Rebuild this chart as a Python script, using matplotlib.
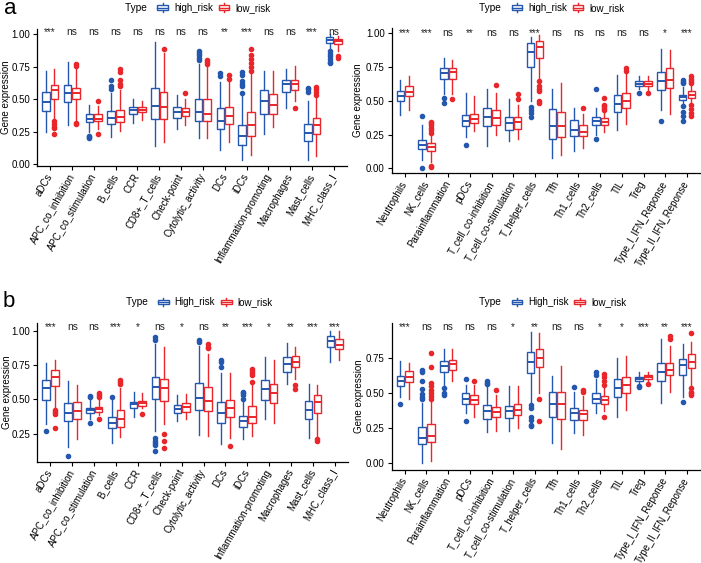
import numpy as np
import matplotlib
matplotlib.use("Agg")
import matplotlib.pyplot as plt
import matplotlib.transforms as mtrans
from matplotlib.patches import Rectangle, Patch
from matplotlib.lines import Line2D
from matplotlib.legend_handler import HandlerBase

plt.rcParams["font.family"] = ["Liberation Sans", "DejaVu Sans"]

# ---------------------------------------------------------------
# Data: box stats per category as (whisker_low, q1, median, q3, whisker_high)
# plus the outlier points.
# ---------------------------------------------------------------
CATS_LEFT = ["aDCs", "APC_co_inhibition", "APC_co_stimulation", "B_cells", "CCR",
             "CD8+_T_cells", "Check-point", "Cytolytic_activity", "DCs", "iDCs",
             "Inflammation-promoting", "Macrophages", "Mast_cells", "MHC_class_I"]
CATS_RIGHT = ["Neutrophils", "NK_cells", "Parainflammation", "pDCs", "T_cell_co-inhibition",
              "T_cell_co-stimulation", "T_helper_cells", "Tfh", "Th1_cells", "Th2_cells",
              "TIL", "Treg", "Type_I_IFN_Reponse", "Type_II_IFN_Reponse"]

# panel a, left
A1_HIGH = [(0.25, 0.41, 0.48, 0.56, 0.72), (0.30, 0.48, 0.55, 0.61, 0.79),
           (0.25, 0.325, 0.35, 0.385, 0.46), (0.21, 0.31, 0.355, 0.41, 0.55),
           (0.32, 0.39, 0.415, 0.44, 0.50), (0.14, 0.35, 0.445, 0.59, 0.94),
           (0.27, 0.36, 0.40, 0.44, 0.53), (0.20, 0.33, 0.40, 0.505, 0.77),
           (0.11, 0.27, 0.335, 0.43, 0.63), (0.03, 0.15, 0.215, 0.30, 0.53),
           (0.23, 0.39, 0.49, 0.57, 0.72), (0.43, 0.555, 0.62, 0.65, 0.73),
           (0.03, 0.18, 0.24, 0.31, 0.49), (0.88, 0.93, 0.96, 0.98, 1.00)]
A1_HIGH_OUT = [[], [], [0.22, 0.21, 0.20], [0.645, 0.60, 0.58], [], [], [],
               [0.80, 0.82, 0.84, 0.855, 0.87], [0.68, 0.70],
               [0.55, 0.60, 0.62, 0.64, 0.69, 0.71], [], [], [0.56, 0.58, 0.59],
               [0.87, 0.85, 0.83, 0.81, 0.79, 0.78]]
A1_LOW = [(0.36, 0.50, 0.57, 0.61, 0.735), (0.33, 0.50, 0.545, 0.59, 0.74),
          (0.27, 0.33, 0.35, 0.385, 0.45), (0.26, 0.325, 0.365, 0.42, 0.57),
          (0.34, 0.40, 0.42, 0.44, 0.49), (0.17, 0.35, 0.44, 0.555, 0.86),
          (0.30, 0.37, 0.40, 0.43, 0.50), (0.20, 0.33, 0.39, 0.50, 0.75),
          (0.17, 0.31, 0.37, 0.44, 0.64), (0.07, 0.22, 0.30, 0.40, 0.70),
          (0.29, 0.39, 0.46, 0.54, 0.72), (0.49, 0.575, 0.62, 0.65, 0.76),
          (0.065, 0.235, 0.30, 0.36, 0.52), (0.87, 0.925, 0.945, 0.965, 0.99)]
A1_LOW_OUT = [[0.33, 0.31, 0.29, 0.28, 0.23], [0.31, 0.32, 0.76, 0.77], [0.49, 0.235],
              [0.60, 0.62, 0.65, 0.71, 0.73], [], [0.89], [0.55], [0.77, 0.79, 0.80],
              [0.66, 0.685], [0.72, 0.75, 0.78, 0.81, 0.84, 0.885], [], [0.43],
              [0.53, 0.56, 0.58, 0.595], [0.83, 0.82]]
A1_SIG = ["***", "ns", "ns", "ns", "ns", "ns", "ns", "ns", "**", "***", "ns", "ns", "***", "ns"]

# panel a, right
A2_HIGH = [(0.395, 0.50, 0.535, 0.575, 0.655), (0.06, 0.14, 0.175, 0.21, 0.32),
           (0.55, 0.66, 0.705, 0.745, 0.82), (0.23, 0.31, 0.35, 0.395, 0.56),
           (0.165, 0.315, 0.38, 0.45, 0.59), (0.20, 0.28, 0.335, 0.38, 0.51),
           (0.50, 0.75, 0.86, 0.925, 0.975), (0.08, 0.22, 0.315, 0.44, 0.59),
           (0.13, 0.24, 0.28, 0.355, 0.445), (0.245, 0.32, 0.35, 0.38, 0.445),
           (0.28, 0.415, 0.475, 0.545, 0.69), (0.585, 0.61, 0.625, 0.645, 0.68),
           (0.43, 0.58, 0.645, 0.71, 0.88), (0.47, 0.505, 0.525, 0.54, 0.60)]
A2_HIGH_OUT = [[], [0.39, 0.00], [0.52, 0.485], [0.17], [], [],
               [0.455, 0.43, 0.41, 0.38], [], [], [0.585, 0.22], [], [0.56], [0.35],
               [0.63, 0.64, 0.655, 0.46, 0.42, 0.39, 0.35]]
A2_LOW = [(0.435, 0.535, 0.565, 0.61, 0.685), (0.05, 0.13, 0.155, 0.185, 0.25),
          (0.55, 0.66, 0.71, 0.745, 0.80), (0.275, 0.335, 0.365, 0.405, 0.535),
          (0.245, 0.32, 0.37, 0.43, 0.56), (0.22, 0.29, 0.34, 0.38, 0.47),
          (0.66, 0.82, 0.895, 0.945, 0.985), (0.10, 0.23, 0.315, 0.42, 0.635),
          (0.15, 0.24, 0.27, 0.32, 0.40), (0.27, 0.32, 0.34, 0.37, 0.42),
          (0.33, 0.445, 0.495, 0.555, 0.70), (0.58, 0.61, 0.625, 0.645, 0.68),
          (0.40, 0.595, 0.655, 0.74, 0.875), (0.48, 0.52, 0.545, 0.575, 0.61)]
A2_LOW_OUT = [[], [0.26, 0.28, 0.30, 0.32, 0.335, 0.345, 0.02, 0.01], [0.51], [], [0.62],
              [0.51, 0.55], [0.645, 0.61, 0.59, 0.57, 0.50, 0.48], [], [0.45],
              [0.43, 0.445, 0.46, 0.47, 0.52], [0.72, 0.74], [0.56], [],
              [0.63, 0.645, 0.66, 0.68, 0.47, 0.44, 0.41, 0.39]]
A2_SIG = ["***", "***", "ns", "**", "ns", "ns", "***", "ns", "ns", "ns", "ns", "ns", "*", "***"]

# panel b, left
B1_HIGH = [(0.32, 0.495, 0.585, 0.64, 0.765), (0.155, 0.345, 0.40, 0.475, 0.635),
           (0.36, 0.40, 0.425, 0.44, 0.50), (0.18, 0.29, 0.33, 0.375, 0.50),
           (0.37, 0.435, 0.465, 0.48, 0.555), (0.27, 0.50, 0.59, 0.665, 0.90),
           (0.34, 0.40, 0.43, 0.46, 0.535), (0.24, 0.42, 0.51, 0.62, 0.89),
           (0.175, 0.33, 0.40, 0.48, 0.69), (0.21, 0.30, 0.34, 0.38, 0.48),
           (0.355, 0.495, 0.575, 0.64, 0.81), (0.61, 0.70, 0.76, 0.805, 0.91),
           (0.215, 0.355, 0.425, 0.49, 0.61), (0.775, 0.88, 0.925, 0.965, 1.00)]
B1_HIGH_OUT = [[0.27], [0.087], [0.515, 0.525, 0.33], [0.52], [],
               [0.935, 0.955, 0.215, 0.20, 0.18, 0.165, 0.125], [], [0.92, 0.93],
               [0.735, 0.775, 0.79], [0.50, 0.53, 0.545, 0.555], [], [], [], []]
B1_LOW = [(0.445, 0.60, 0.665, 0.715, 0.79), (0.21, 0.355, 0.415, 0.48, 0.605),
          (0.385, 0.41, 0.43, 0.445, 0.50), (0.225, 0.30, 0.355, 0.425, 0.58),
          (0.435, 0.455, 0.47, 0.49, 0.55), (0.32, 0.49, 0.58, 0.65, 0.885),
          (0.355, 0.41, 0.445, 0.47, 0.54), (0.23, 0.415, 0.485, 0.59, 0.83),
          (0.215, 0.37, 0.435, 0.495, 0.69), (0.23, 0.33, 0.375, 0.45, 0.62),
          (0.33, 0.475, 0.55, 0.615, 0.785), (0.65, 0.735, 0.77, 0.815, 0.885),
          (0.23, 0.40, 0.48, 0.53, 0.605), (0.785, 0.865, 0.895, 0.94, 0.995)]
B1_LOW_OUT = [[0.42, 0.41, 0.39, 0.295], [], [0.52, 0.535, 0.545, 0.355], [0.61, 0.625, 0.64],
              [0.395], [0.245, 0.20, 0.145], [], [0.875, 0.885, 0.90], [0.16],
              [0.63, 0.68, 0.695, 0.705, 0.72], [], [0.605, 0.575], [0.21, 0.195], []]
B1_SIG = ["***", "ns", "ns", "***", "*", "ns", "*", "ns", "**", "***", "*", "**", "***", "***"]

# panel b, right
B2_HIGH = [(0.475, 0.55, 0.59, 0.625, 0.735), (0.00, 0.135, 0.18, 0.26, 0.43),
           (0.56, 0.655, 0.695, 0.735, 0.815), (0.355, 0.425, 0.455, 0.50, 0.56),
           (0.22, 0.315, 0.37, 0.415, 0.55), (0.23, 0.32, 0.37, 0.41, 0.55),
           (0.44, 0.645, 0.725, 0.80, 0.94), (0.14, 0.325, 0.42, 0.51, 0.625),
           (0.21, 0.31, 0.355, 0.39, 0.51), (0.355, 0.43, 0.46, 0.50, 0.60),
           (0.33, 0.475, 0.54, 0.60, 0.755), (0.57, 0.59, 0.605, 0.62, 0.655),
           (0.43, 0.59, 0.655, 0.715, 0.89), (0.47, 0.63, 0.70, 0.745, 0.855)]
B2_HIGH_OUT = [[0.42], [0.455, 0.475, 0.495, 0.53, 0.59, 0.65, 0.665], [0.54, 0.50, 0.49],
               [0.605, 0.30], [0.565, 0.575, 0.585], [], [0.415, 0.39, 0.33, 0.31, 0.27, 0.265],
               [], [0.545], [0.63, 0.65], [], [0.55, 0.545], [], [0.44]]
B2_LOW = [(0.46, 0.58, 0.62, 0.66, 0.72), (0.01, 0.145, 0.19, 0.275, 0.45),
          (0.585, 0.665, 0.71, 0.74, 0.815), (0.33, 0.42, 0.45, 0.485, 0.56),
          (0.23, 0.33, 0.365, 0.40, 0.49), (0.25, 0.34, 0.38, 0.425, 0.55),
          (0.50, 0.685, 0.755, 0.815, 0.935), (0.10, 0.315, 0.425, 0.51, 0.695),
          (0.20, 0.305, 0.35, 0.38, 0.48), (0.37, 0.425, 0.45, 0.48, 0.54),
          (0.38, 0.50, 0.56, 0.615, 0.77), (0.58, 0.60, 0.615, 0.63, 0.655),
          (0.51, 0.63, 0.67, 0.72, 0.84), (0.56, 0.68, 0.725, 0.78, 0.87)]
B2_LOW_OUT = [[], [0.46, 0.48, 0.50, 0.52, 0.55, 0.57, 0.69, 0.79], [], [0.59], [0.525], [],
              [0.455, 0.30], [], [0.51, 0.525], [0.56, 0.59, 0.615, 0.635, 0.33], [], [0.565],
              [0.89, 0.915], [0.935, 0.535, 0.51, 0.50, 0.49]]
B2_SIG = ["***", "ns", "ns", "ns", "ns", "*", "**", "ns", "ns", "*", "*", "***", "**", "***"]

BLUE = "#2457AE"
RED = "#E9262B"


class BoxKey(HandlerBase):
    # legend key drawn like a tiny boxplot
    def create_artists(self, legend, orig, xdescent, ydescent, width, height, fontsize, trans):
        c = orig.get_edgecolor()
        x0, y0 = -xdescent, -ydescent
        xm = x0 + width / 2
        box = Rectangle((x0, y0 + 0.2 * height), width, 0.6 * height,
                        facecolor="white", edgecolor=c, lw=1.0, transform=trans)
        med = Line2D([x0, x0 + width], [y0 + 0.5 * height] * 2, color=c, lw=1.0, transform=trans)
        wt = Line2D([xm, xm], [y0 + 0.8 * height, y0 + 1.05 * height], color=c, lw=1.0, transform=trans)
        wb = Line2D([xm, xm], [y0 - 0.05 * height, y0 + 0.2 * height], color=c, lw=1.0, transform=trans)
        return [wt, wb, box, med]


fig = plt.figure(figsize=(7.01, 5.63), dpi=100)


def draw_panel(rect, cats, hi, hi_out, lo, lo_out, sig, ylim, yticks, sig_y, hi_name,
               leg_y, ylab_px):
    ax = fig.add_axes(rect)
    pos = np.arange(1, len(cats) + 1)
    for rows, outs, c, d in [(hi, hi_out, BLUE, -0.2), (lo, lo_out, RED, 0.2)]:
        stats = [dict(whislo=r[0], q1=r[1], med=r[2], q3=r[3], whishi=r[4], fliers=o)
                 for r, o in zip(rows, outs)]
        ax.bxp(stats, positions=pos + d, widths=0.35, patch_artist=True, showcaps=False,
               manage_ticks=False,
               boxprops=dict(facecolor="white", edgecolor=c, linewidth=1.0),
               medianprops=dict(color=c, linewidth=1.4),
               whiskerprops=dict(color=c, linewidth=1.0),
               flierprops=dict(marker="o", markerfacecolor=c, markeredgecolor=c,
                               markersize=3, linestyle="none"))
    for x, s in zip(pos, sig):
        ax.text(x, sig_y, s, ha="center", va="baseline", fontsize=7.3, color="#222222")

    ax.set_xlim(0.4, len(cats) + 0.6)
    ax.set_ylim(*ylim)
    ax.set_xticks(pos)
    ax.set_xticklabels(cats, rotation=60, ha="right", va="center", rotation_mode="anchor",
                       fontsize=7)
    ax.set_yticks(yticks)
    ax.set_yticklabels([f"{t:.2f}" for t in yticks], fontsize=7)
    ax.tick_params(length=3, width=0.8, color="black", pad=2)
    ax.tick_params(axis="x", pad=3)
    ax.set_ylabel("Gene expression", fontsize=7, va="center")
    # label centre position, given in pixels left of the y axis
    ax.yaxis.set_label_coords(-ylab_px / (rect[2] * 701), 0.5)
    for s in ["top", "right"]:
        ax.spines[s].set_visible(False)
    for s in ["left", "bottom"]:
        ax.spines[s].set_linewidth(0.9)

    handles = [Patch(edgecolor=BLUE, facecolor="white"), Patch(edgecolor=RED, facecolor="white")]
    tr = mtrans.blended_transform_factory(ax.transAxes, fig.transFigure)
    ax.legend(handles, [hi_name, "low_risk"], handler_map={Patch: BoxKey()},
              loc="center left", bbox_to_anchor=(0.373, leg_y), bbox_transform=tr,
              ncol=2, frameon=False, fontsize=7, borderpad=0, handlelength=1.1,
              handleheight=0.9, handletextpad=0.6, columnspacing=0.6)
    ax.text(0.373, leg_y, "Type  ", transform=tr, ha="right", va="center", fontsize=7.3)
    return ax


draw_panel([37 / 701, 1 - 166 / 563, 310 / 701, 137 / 563], CATS_LEFT,
           A1_HIGH, A1_HIGH_OUT, A1_LOW, A1_LOW_OUT, A1_SIG,
           (-0.013, 1.041), [0.0, 0.25, 0.5, 0.75, 1.0], 0.992, "high_risk", 1 - 8 / 563, 30.5)
draw_panel([391.7 / 701, 1 - 173.3 / 563, 308.3 / 701, 145.3 / 563], CATS_RIGHT,
           A2_HIGH, A2_HIGH_OUT, A2_LOW, A2_LOW_OUT, A2_SIG,
           (-0.037, 1.039), [0.0, 0.25, 0.5, 0.75, 1.0], 0.982, "high_risk", 1 - 8 / 563, 34)
draw_panel([37.3 / 701, 1 - 461.7 / 563, 310.7 / 701, 138.4 / 563], CATS_LEFT,
           B1_HIGH, B1_HIGH_OUT, B1_LOW, B1_LOW_OUT, B1_SIG,
           (0.046, 1.054), [0.25, 0.5, 0.75, 1.0], 1.005, "High_risk", 1 - 302.3 / 563, 30.5)
draw_panel([391.7 / 701, 1 - 470 / 563, 308.3 / 701, 146.7 / 563], CATS_RIGHT,
           B2_HIGH, B2_HIGH_OUT, B2_LOW, B2_LOW_OUT, B2_SIG,
           (-0.053, 1.003), [0.0, 0.25, 0.5, 0.75], 0.955, "High_risk", 1 - 302.3 / 563, 33)

fig.text(4 / 701, 1 - 14 / 563, "a", fontsize=16, va="baseline", ha="left")
fig.text(3 / 701, 1 - 307 / 563, "b", fontsize=16, va="baseline", ha="left")

fig.savefig("out.png", dpi=100)
